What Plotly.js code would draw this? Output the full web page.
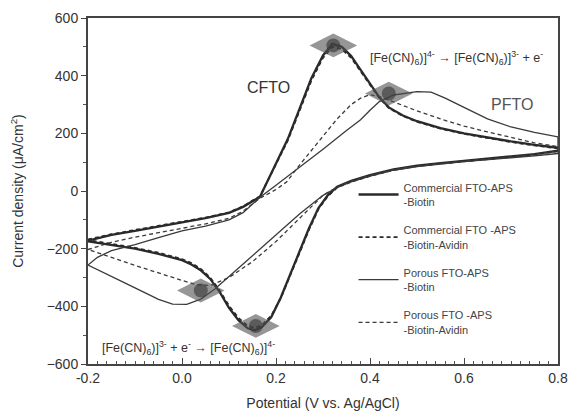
<!DOCTYPE html>
<html>
<head>
<meta charset="utf-8">
<script src="https://cdn.plot.ly/plotly-3.0.1.min.js"></script>
<style>html,body{margin:0;padding:0;background:#fff;}#chart{width:571px;height:412px;}</style>
</head>
<body>
<div id="chart"></div>
<script>
// Commercial FTO-APS-Biotin (CFTO, solid)
var cBiotinV = [-0.2,-0.15,-0.1,-0.05,0.0,0.05,0.1,0.13,0.166,0.2,0.225,0.25,0.275,0.3,0.32,0.34,0.36,0.38,0.4,0.42,0.44,0.47,0.5,0.55,0.6,0.65,0.7,0.75,0.8,
                0.8,0.75,0.7,0.65,0.6,0.55,0.5,0.45,0.4,0.36,0.33,0.31,0.29,0.27,0.25,0.23,0.21,0.19,0.17,0.155,0.14,0.12,0.1,0.08,0.06,0.04,0.02,0.0,-0.05,-0.1,-0.15,-0.2];
var cBiotinI = [-172,-152,-138,-124,-110,-94,-76,-55,-20,95,180,285,390,470,510,500,468,420,372,325,290,262,242,218,200,185,172,160,150,
                140,128,120,113,106,97,88,75,55,35,15,-15,-60,-130,-210,-290,-370,-437,-472,-483,-476,-448,-405,-350,-305,-275,-255,-240,-218,-200,-187,-175];
// Commercial FTO-APS-Biotin-Avidin (dashed)
var cAvidinV = [-0.2,-0.15,-0.1,-0.05,0.0,0.05,0.1,0.13,0.166,0.2,0.225,0.25,0.275,0.3,0.32,0.34,0.36,0.38,0.4,0.42,0.44,0.47,0.5,0.55,0.6,0.65,0.7,0.75,0.8,
                0.8,0.75,0.7,0.65,0.6,0.55,0.5,0.45,0.4,0.36,0.33,0.31,0.29,0.27,0.25,0.23,0.21,0.19,0.17,0.155,0.14,0.12,0.1,0.08,0.06,0.04,0.02,0.0,-0.05,-0.1,-0.15,-0.2];
var cAvidinI = [-168,-150,-135,-121,-107,-92,-74,-53,-18,90,175,278,382,462,500,492,462,415,368,322,288,260,240,216,198,183,170,158,148,
                138,126,118,111,104,95,86,73,52,32,12,-18,-64,-135,-215,-295,-372,-432,-465,-475,-468,-440,-398,-345,-300,-270,-250,-236,-214,-197,-184,-170];
// Porous FTO-APS-Biotin (PFTO, solid thin)
var pBiotinV = [-0.2,-0.18,-0.15,-0.1,-0.05,0.0,0.05,0.1,0.13,0.166,0.2,0.25,0.3,0.35,0.38,0.4,0.42,0.45,0.5,0.53,0.56,0.6,0.65,0.7,0.75,0.8,
                0.8,0.75,0.7,0.6,0.5,0.45,0.4,0.36,0.33,0.3,0.25,0.2,0.15,0.1,0.07,0.04,0.01,-0.02,-0.05,-0.1,-0.15,-0.2];
var pBiotinI = [-257,-230,-207,-186,-162,-138,-122,-100,-75,-22,20,82,145,210,247,280,310,333,345,343,322,290,250,222,203,188,
                130,122,115,102,85,72,52,32,12,-15,-80,-152,-225,-295,-340,-375,-393,-392,-376,-336,-296,-257];
// Porous FTO-APS-Biotin-Avidin (dashed thin)
var pAvidinV = [-0.2,-0.15,-0.1,-0.05,0.0,0.05,0.1,0.13,0.166,0.2,0.223,0.25,0.3,0.33,0.36,0.38,0.4,0.42,0.46,0.5,0.55,0.6,0.65,0.7,0.75,0.8,
                0.8,0.75,0.7,0.6,0.5,0.45,0.4,0.36,0.33,0.3,0.25,0.2,0.15,0.1,0.06,0.03,0.0,-0.05,-0.1,-0.15,-0.2];
var pAvidinI = [-203,-178,-160,-144,-128,-114,-95,-70,-25,5,32,90,190,250,300,322,334,328,303,278,250,225,205,185,167,154,
                138,127,118,104,87,74,54,34,13,-15,-95,-175,-245,-300,-328,-325,-310,-285,-258,-230,-203];
// Peak markers
var peakV = [0.322, 0.44, 0.157, 0.04];
var peakI = [505, 338, -468, -345];

var traceNames = ['Commercial FTO-APS<br>-Biotin','Commercial FTO -APS<br>-Biotin-Avidin','Porous FTO-APS<br>-Biotin','Porous FTO -APS<br>-Biotin-Avidin'];

var dark = '#2a2a2a';
var data = [
  {x: cBiotinV, y: cBiotinI, mode: 'lines', name: traceNames[0], legendgroup: 'a', line: {color: dark, width: 2.3}},
  {x: cAvidinV, y: cAvidinI, mode: 'lines', name: traceNames[1], legendgroup: 'b', line: {color: dark, width: 1.8, dash: '4px,3px'}},
  {x: pBiotinV, y: pBiotinI, mode: 'lines', name: traceNames[2], legendgroup: 'c', line: {color: '#3a3a3a', width: 1.3}},
  {x: pAvidinV, y: pAvidinI, mode: 'lines', name: traceNames[3], legendgroup: 'd', line: {color: '#3a3a3a', width: 1.3, dash: '4px,3px'}},
  {x: peakV, y: peakI, mode: 'markers', showlegend: false, hoverinfo: 'skip',
   marker: {symbol: 'diamond-wide', size: 34, color: 'rgba(80,80,80,0.6)', line: {width: 0}}},
  {x: peakV, y: peakI, mode: 'markers', showlegend: false, hoverinfo: 'skip',
   marker: {symbol: 'circle', size: 14, color: 'rgba(60,60,60,0.65)', line: {width: 0}}}
];

var fontFam = 'Liberation Sans, Arial, sans-serif';
var layout = {
  width: 571, height: 412,
  margin: {l: 88, r: 13, t: 18, b: 48},
  paper_bgcolor: '#fff', plot_bgcolor: '#fff',
  font: {family: fontFam, color: '#333', size: 14},
  showlegend: true,
  legend: {x: 0.565, y: 0.55, xanchor: 'left', yanchor: 'top', bgcolor: 'rgba(0,0,0,0)',
           traceorder: 'grouped', tracegroupgap: 11,
           font: {size: 11, color: '#444', family: fontFam}, itemwidth: 40},
  xaxis: {range: [-0.2, 0.8], tickvals: [-0.2, 0.0, 0.2, 0.4, 0.6, 0.8], ticktext: ['-0.2','0.0','0.2','0.4','0.6','0.8'],
          ticks: 'inside', ticklen: 6, tickcolor: '#444', showgrid: false, zeroline: false,
          showline: true, linecolor: '#444', linewidth: 2, mirror: true,
          minor: {dtick: 0.02, ticks: 'inside', ticklen: 3, tickcolor: '#555', showgrid: false},
          title: {text: 'Potential (V vs. Ag/AgCl)', font: {size: 14, color: '#333'}, standoff: 13},
          tickfont: {size: 14, color: '#333'}},
  yaxis: {range: [-600, 600], tickvals: [-600,-400,-200,0,200,400,600],
          ticks: 'outside', ticklen: 5, tickcolor: '#444', showgrid: false, zeroline: false,
          showline: true, linecolor: '#444', linewidth: 2, mirror: true,
          minor: {dtick: 100, ticks: 'outside', ticklen: 3, tickcolor: '#555', showgrid: false},
          title: {text: 'Current density (μA/cm<sup>2</sup>)', font: {size: 14, color: '#333'}, standoff: 20},
          tickfont: {size: 14, color: '#333'}},
  annotations: [
    {x: 0.183, y: 358, text: 'CFTO', showarrow: false, font: {size: 16, color: '#333'}},
    {x: 0.702, y: 299, text: 'PFTO', showarrow: false, font: {size: 16, color: '#555'}},
    {x: 0.583, y: 463, text: '[Fe(CN)<sub>6</sub>)]<sup>4-</sup> → [Fe(CN)<sub>6</sub>)]<sup>3-</sup> + e<sup>-</sup>', showarrow: false, font: {size: 12.5, color: '#333'}},
    {x: 0.013, y: -546, text: '[Fe(CN)<sub>6</sub>)]<sup>3-</sup> + e<sup>-</sup> → [Fe(CN)<sub>6</sub>)]<sup>4-</sup>', showarrow: false, font: {size: 12.5, color: '#333'}}
  ]
};

Plotly.newPlot('chart', data, layout, {staticPlot: true, displayModeBar: false});
</script>
</body>
</html>
